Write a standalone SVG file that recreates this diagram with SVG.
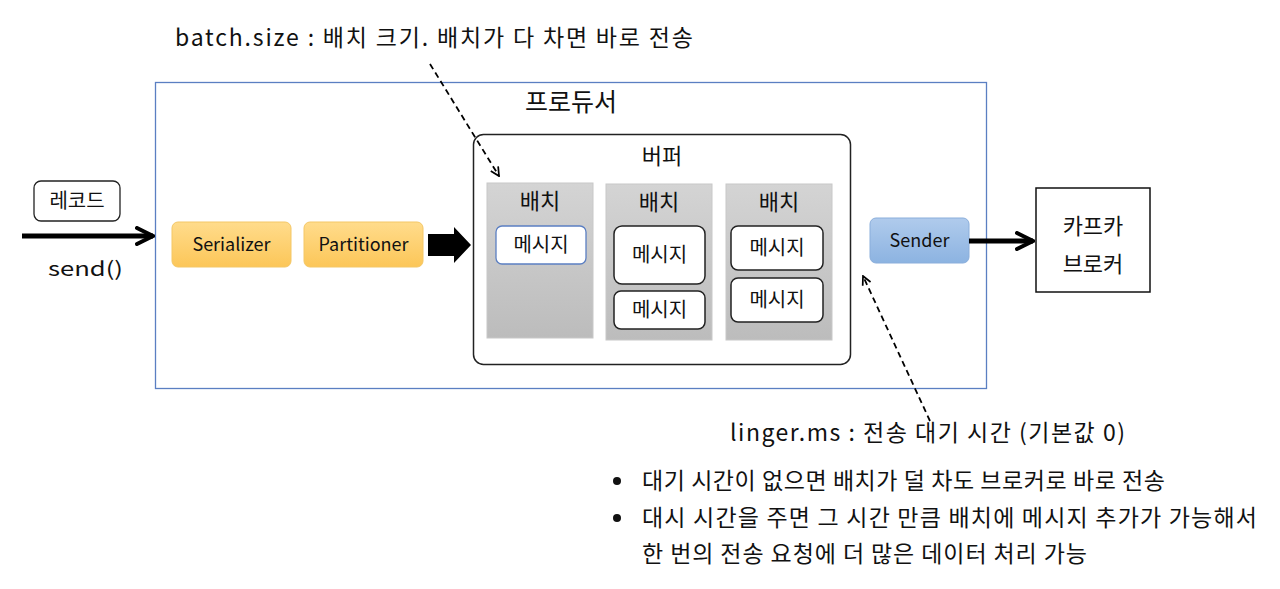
<svg xmlns="http://www.w3.org/2000/svg" width="1280" height="589" viewBox="0 0 1280 589">
<defs>
<linearGradient id="gOrange" x1="0" y1="0" x2="0" y2="1"><stop offset="0" stop-color="#ffdc8c"/><stop offset="1" stop-color="#fcc658"/></linearGradient>
<linearGradient id="gBlue" x1="0" y1="0" x2="0" y2="1"><stop offset="0" stop-color="#b0cbec"/><stop offset="1" stop-color="#8cb3e1"/></linearGradient>
<linearGradient id="gGray" x1="0" y1="0" x2="0" y2="1"><stop offset="0" stop-color="#d4d4d4"/><stop offset="1" stop-color="#bcbcbc"/></linearGradient>
<marker id="chev" viewBox="0 0 10 10" refX="9" refY="5" markerWidth="4" markerHeight="4" orient="auto" markerUnits="strokeWidth"><path d="M1,1 L9,5 L1,9" fill="none" stroke="#000" stroke-width="2" stroke-linejoin="miter" stroke-linecap="round"/></marker>
<marker id="dchev" viewBox="0 0 10 10" refX="9" refY="5" markerWidth="6" markerHeight="6" orient="auto" markerUnits="strokeWidth"><path d="M1,1 L9,5 L1,9" fill="none" stroke="#000" stroke-width="1.6"/></marker>
</defs>
<style>
text{font-family:"Noto Sans CJK KR","Noto Sans",sans-serif;fill:#111;}
.lbl{font-size:18px;text-anchor:middle;}
.kl{font-size:20px;text-anchor:middle;}
.big{font-size:22px;text-anchor:middle;}
.msg{fill:#fff;stroke:#222;stroke-width:1.5;}
.batch{fill:url(#gGray);stroke:#c8c8c8;stroke-width:1;}
.orange{fill:url(#gOrange);stroke:#f4c766;stroke-width:1;}
.note{font-size:23px;}
</style>
<rect width="1280" height="589" fill="#fff"/>

<g id="producer">
<rect x="155.5" y="82.5" width="831" height="306" fill="none" stroke="#5b7fc2" stroke-width="1.3"/>
<text x="571" y="111" style="font-size:25px;text-anchor:middle">프로듀서</text>
</g>

<g id="record">
<rect x="34" y="181" width="86" height="40" rx="7" fill="#fff" stroke="#222" stroke-width="1.3"/>
<text class="kl" x="77" y="208">레코드</text>
</g>
<text x="48" y="276" textLength="75" lengthAdjust="spacingAndGlyphs" style="font-size:20px">send()</text>

<g id="serializer">
<rect class="orange" x="172" y="222" width="119" height="45" rx="6"/>
<text class="lbl" x="231.5" y="251">Serializer</text>
</g>
<g id="partitioner">
<rect class="orange" x="304" y="222" width="119" height="45" rx="6"/>
<text class="lbl" x="363.5" y="251">Partitioner</text>
</g>

<g id="buffer">
<rect x="473.5" y="134.5" width="377" height="230" rx="10" fill="#fff" stroke="#222" stroke-width="1.5"/>
<text class="big" x="662" y="164">버퍼</text>
</g>

<g id="batch1">
<rect class="batch" x="487" y="183" width="106" height="155"/>
<text class="big" x="540" y="209">배치</text>
</g>
<g id="msg1">
<rect x="496" y="226" width="90" height="38" rx="6" fill="#fff" stroke="#5b7fc2" stroke-width="1.3"/>
<text class="kl" x="541" y="252">메시지</text>
</g>

<g id="batch2">
<rect class="batch" x="606" y="184" width="106" height="156"/>
<text class="big" x="659" y="210">배치</text>
</g>
<g id="msg2a">
<rect class="msg" x="614" y="226" width="91" height="58" rx="8"/>
<text class="kl" x="659.5" y="262">메시지</text>
</g>
<g id="msg2b">
<rect class="msg" x="614" y="291" width="91" height="38" rx="7"/>
<text class="kl" x="659.5" y="317">메시지</text>
</g>

<g id="batch3">
<rect class="batch" x="726" y="184" width="106" height="156"/>
<text class="big" x="779" y="210">배치</text>
</g>
<g id="msg3a">
<rect class="msg" x="731" y="226" width="92" height="44" rx="7"/>
<text class="kl" x="777" y="255">메시지</text>
</g>
<g id="msg3b">
<rect class="msg" x="731" y="278" width="92" height="44" rx="7"/>
<text class="kl" x="777" y="307">메시지</text>
</g>

<g id="sender">
<rect x="870" y="218" width="99" height="45" rx="6" fill="url(#gBlue)" stroke="#8aaedb" stroke-width="1"/>
<text class="lbl" x="919.5" y="247">Sender</text>
</g>

<g id="broker">
<rect x="1036" y="188" width="114" height="104" fill="#fff" stroke="#111" stroke-width="1.5"/>
<text class="big" x="1093" y="234">카프카</text>
<text class="big" x="1093" y="272">브로커</text>
</g>

<g id="connectors">
<line x1="22" y1="236" x2="153" y2="236" stroke="#000" stroke-width="5" marker-end="url(#chev)"/>
<path d="M428,234 L454,234 L454,227 L471,245 L454,263 L454,256 L428,256 Z" fill="#000"/>
<line x1="969" y1="241" x2="1033" y2="241" stroke="#000" stroke-width="5" marker-end="url(#chev)"/>
<line x1="430" y1="64" x2="499" y2="176" stroke="#000" stroke-width="1.8" stroke-dasharray="6,4" marker-end="url(#dchev)"/>
<line x1="930" y1="421" x2="863" y2="276" stroke="#000" stroke-width="1.8" stroke-dasharray="6,4" marker-end="url(#dchev)"/>
</g>

<g id="notes">
<text class="note" x="175" y="46" textLength="518" lengthAdjust="spacing">batch.size : 배치 크기. 배치가 다 차면 바로 전송</text>
<text class="note" x="730" y="441" textLength="395" lengthAdjust="spacing">linger.ms : 전송 대기 시간 (기본값 0)</text>
<circle cx="617" cy="481" r="4" fill="#111"/>
<text class="note" x="642" y="489" textLength="523" lengthAdjust="spacing">대기 시간이 없으면 배치가 덜 차도 브로커로 바로 전송</text>
<circle cx="617" cy="518" r="4" fill="#111"/>
<text class="note" x="642" y="526" textLength="615" lengthAdjust="spacing">대시 시간을 주면 그 시간 만큼 배치에 메시지 추가가 가능해서</text>
<text class="note" x="642" y="562" textLength="445" lengthAdjust="spacing">한 번의 전송 요청에 더 많은 데이터 처리 가능</text>
</g>
</svg>
